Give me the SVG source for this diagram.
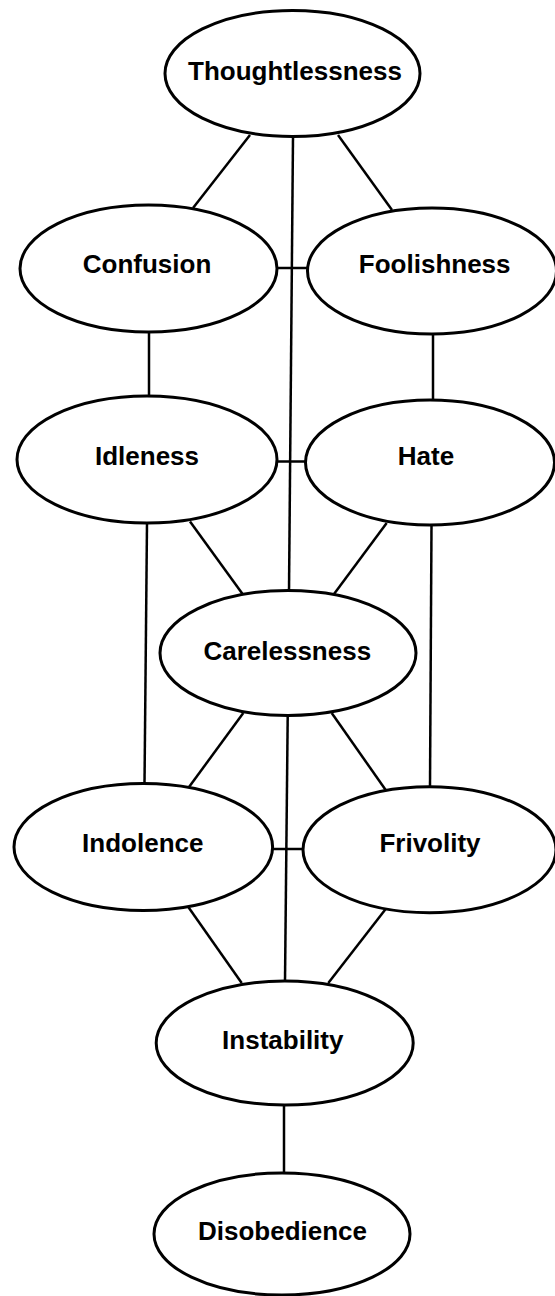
<svg xmlns="http://www.w3.org/2000/svg" width="555" height="1296" viewBox="0 0 555 1296">
<style>
.n ellipse{fill:#fff;stroke:#000;stroke-width:3}
.n text{font-family:"Liberation Sans",Arial,sans-serif;font-weight:bold;font-size:26px;text-anchor:middle;fill:#000}
#edges line{stroke:#000;stroke-width:2.5;stroke-linecap:butt}
</style>
<rect width="555" height="1296" fill="#fff"/>
<g id="edges">
<line x1="250" y1="135" x2="193" y2="208"/>
<line x1="338" y1="135" x2="392" y2="210"/>
<line x1="293" y1="137" x2="289" y2="591"/>
<line x1="277" y1="268" x2="308" y2="268"/>
<line x1="149" y1="332" x2="149" y2="396"/>
<line x1="433" y1="334" x2="433" y2="400"/>
<line x1="277" y1="461.5" x2="306" y2="461.5"/>
<line x1="147" y1="523" x2="144.5" y2="784"/>
<line x1="190" y1="521.5" x2="243.3" y2="595"/>
<line x1="386.7" y1="523" x2="333.3" y2="595"/>
<line x1="431.5" y1="525" x2="430" y2="787"/>
<line x1="243.3" y1="713" x2="188.3" y2="788"/>
<line x1="287.7" y1="716" x2="285" y2="981"/>
<line x1="331.7" y1="713" x2="385.7" y2="790"/>
<line x1="272" y1="849" x2="303" y2="849"/>
<line x1="188.3" y1="907" x2="241.7" y2="983"/>
<line x1="385.7" y1="909" x2="328.3" y2="983"/>
<line x1="284" y1="1105" x2="284" y2="1173"/>
</g>
<g id="thoughtlessness" class="n"><ellipse cx="292.5" cy="73.5" rx="127.5" ry="63"/><text x="295" y="80">Thoughtlessness</text></g>
<g id="confusion" class="n"><ellipse cx="148.5" cy="268.5" rx="128.5" ry="63.5"/><text x="147" y="273">Confusion</text></g>
<g id="foolishness" class="n"><ellipse cx="432" cy="271" rx="124.5" ry="63"/><text x="434.7" y="273">Foolishness</text></g>
<g id="idleness" class="n"><ellipse cx="147" cy="459.5" rx="130" ry="63.5"/><text x="147" y="465">Idleness</text></g>
<g id="hate" class="n"><ellipse cx="430" cy="462.5" rx="124.5" ry="62.5"/><text x="426" y="465">Hate</text></g>
<g id="carelessness" class="n"><ellipse cx="288" cy="653" rx="128" ry="62.5"/><text x="287.3" y="660">Carelessness</text></g>
<g id="indolence" class="n"><ellipse cx="143.3" cy="847" rx="129.3" ry="63.5"/><text x="142.8" y="852.3">Indolence</text></g>
<g id="frivolity" class="n"><ellipse cx="429.5" cy="849.7" rx="126.5" ry="63"/><text x="430" y="852.3">Frivolity</text></g>
<g id="instability" class="n"><ellipse cx="284.7" cy="1043" rx="128.5" ry="62"/><text x="282.8" y="1049">Instability</text></g>
<g id="disobedience" class="n"><ellipse cx="282" cy="1234" rx="128" ry="61"/><text x="282.5" y="1240">Disobedience</text></g>
</svg>
